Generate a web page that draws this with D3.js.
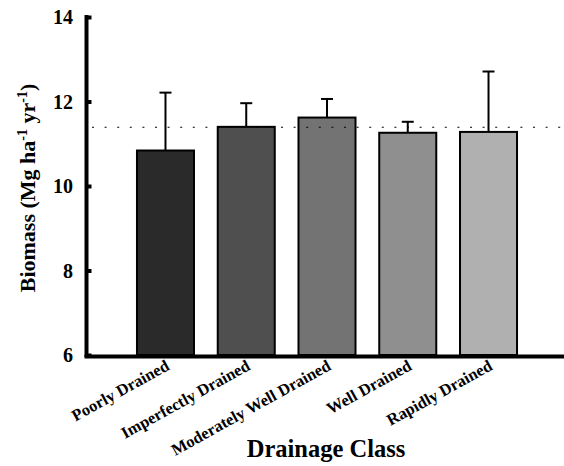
<!DOCTYPE html>
<html>
<head>
<meta charset="utf-8">
<script src="https://cdn.jsdelivr.net/npm/d3@7"></script>
<style>
  html, body { margin: 0; padding: 0; background: #fff; }
  svg { display: block; font-family: "Liberation Serif", "Times New Roman", serif; font-weight: bold; }
</style>
</head>
<body>
<svg id="chart" width="564" height="466"></svg>
<script>
// Drainage classes and mean annual biomass with upper error bars
const categories = ["Poorly Drained", "Imperfectly Drained", "Moderately Well Drained", "Well Drained", "Rapidly Drained"];
const biomass = [10.84, 11.40, 11.62, 11.26, 11.28];
const errorTop = [12.21, 11.96, 12.06, 11.52, 12.71];
const barFills = ["#2a2a2a", "#4f4f4f", "#737373", "#8f8f8f", "#b0b0b0"];
const yTicks = [6, 8, 10, 12, 14];
const overallMean = 11.39;

const svg = d3.select("#chart");

const x = d3.scaleBand()
  .domain(categories)
  .range([96.6, 557.4])
  .paddingInner(0.294)
  .paddingOuter(0.5);

const y = d3.scaleLinear().domain([6, 14]).range([355, 17]);

// bars
svg.append("g").selectAll("rect")
  .data(categories)
  .join("rect")
  .attr("x", d => x(d))
  .attr("y", (d, i) => y(biomass[i]))
  .attr("width", x.bandwidth())
  .attr("height", (d, i) => y(6) - y(biomass[i]))
  .attr("fill", (d, i) => barFills[i])
  .attr("stroke", "#000")
  .attr("stroke-width", 2);

// error bars (upper only)
const eb = svg.append("g").attr("stroke", "#000").attr("stroke-width", 2);
categories.forEach((c, i) => {
  const cx = x(c) + x.bandwidth() / 2;
  eb.append("line").attr("x1", cx).attr("x2", cx).attr("y1", y(biomass[i])).attr("y2", y(errorTop[i]));
  eb.append("line").attr("x1", cx - 6).attr("x2", cx + 6).attr("y1", y(errorTop[i])).attr("y2", y(errorTop[i]));
});

// overall mean reference line
svg.append("line")
  .attr("x1", 92).attr("x2", 564)
  .attr("y1", y(overallMean)).attr("y2", y(overallMean))
  .attr("stroke", "#000").attr("stroke-width", 1.2)
  .attr("stroke-dasharray", "2,10.6");

// y axis
const yAxis = svg.append("g")
  .attr("transform", "translate(86.5,0)")
  .call(d3.axisRight(y).tickValues(yTicks).tickSize(5).tickFormat(""));
yAxis.select(".domain").attr("stroke-width", 4).attr("d", `M0,${y(14) - 2}V${y(6) + 2}`);
yAxis.selectAll(".tick line").attr("stroke-width", 4);

svg.append("g").selectAll("text")
  .data(yTicks)
  .join("text")
  .attr("x", 73)
  .attr("y", d => y(d))
  .attr("dy", "0.35em")
  .attr("text-anchor", "end")
  .attr("font-size", 20)
  .text(d => d);

// x axis
svg.append("line")
  .attr("x1", 84.5).attr("x2", 564)
  .attr("y1", 356.5).attr("y2", 356.5)
  .attr("stroke", "#000").attr("stroke-width", 4);

// category labels
svg.append("g").selectAll("text")
  .data(categories)
  .join("text")
  .attr("transform", d => `translate(${x(d) + x.bandwidth() / 2 + 5},${369}) rotate(-29)`)
  .attr("text-anchor", "end")
  .attr("font-size", 16.5)
  .text(d => d);

// axis titles
svg.append("text")
  .attr("x", 326).attr("y", 457)
  .attr("text-anchor", "middle")
  .attr("font-size", 24.5)
  .text("Drainage Class");

const yt = svg.append("text")
  .attr("transform", "translate(35,188) rotate(-90)")
  .attr("text-anchor", "middle")
  .attr("font-size", 22);
yt.append("tspan").text("Biomass (Mg ha");
yt.append("tspan").attr("dy", -8).attr("font-size", 14).text("-1");
yt.append("tspan").attr("dy", 8).text(" yr");
yt.append("tspan").attr("dy", -8).attr("font-size", 14).text("-1");
yt.append("tspan").attr("dy", 8).text(")");
</script>
</body>
</html>
